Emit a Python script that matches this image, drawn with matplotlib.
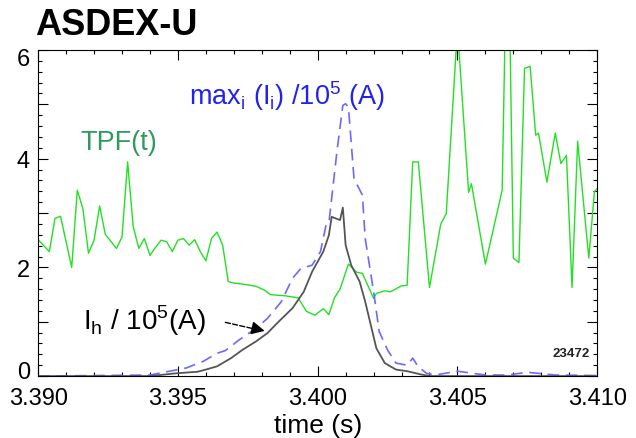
import matplotlib
matplotlib.use("Agg")
from matplotlib import pyplot as plt
from matplotlib.ticker import MultipleLocator, FuncFormatter
from matplotlib.transforms import ScaledTranslation

plt.rcParams['font.family'] = ['Liberation Sans', 'DejaVu Sans']
plt.rcParams['mathtext.fontset'] = 'custom'
plt.rcParams['mathtext.rm'] = 'Liberation Sans'

# TPF(t)
tpf_t = [3.3900, 3.3904, 3.3906, 3.3908, 3.3912, 3.3914, 3.3916, 3.3918, 3.3920, 3.3922,
         3.3924, 3.3928, 3.3930, 3.3932, 3.3934, 3.3936, 3.3938, 3.3940, 3.3942, 3.3944,
         3.3946, 3.3948, 3.3950, 3.3952, 3.3954, 3.3956, 3.3958, 3.3960, 3.3962, 3.3964,
         3.3966, 3.3968, 3.3970, 3.3972, 3.3976, 3.3978, 3.3981, 3.3983, 3.3985, 3.3988,
         3.3993, 3.3996, 3.3999, 3.4002, 3.4004, 3.4006, 3.4008, 3.4011, 3.4014, 3.4016,
         3.4020, 3.4021, 3.4024, 3.4026, 3.4030, 3.4032, 3.4034, 3.4036, 3.4040, 3.4044,
         3.4046, 3.4050, 3.4054, 3.4055, 3.4060, 3.4066, 3.4068, 3.4070, 3.4072, 3.4074,
         3.4076, 3.4078, 3.4079, 3.4082, 3.4085, 3.4087, 3.4089, 3.4091, 3.4093, 3.4097,
         3.4099, 3.4100]
tpf_v = [2.51, 2.29, 2.90, 2.94, 2.00, 3.42, 3.08, 2.26, 2.50, 3.13,
         2.61, 2.35, 2.56, 3.94, 2.75, 2.35, 2.53, 2.22, 2.37, 2.50,
         2.47, 2.29, 2.50, 2.53, 2.41, 2.51, 2.29, 2.12, 2.53, 2.65,
         2.41, 1.74, 1.71, 1.70, 1.67, 1.65, 1.58, 1.50, 1.49, 1.48,
         1.44, 1.19, 1.12, 1.24, 1.13, 1.44, 1.60, 2.06, 1.91, 1.89,
         1.43, 1.52, 1.57, 1.55, 1.66, 1.67, 3.94, 3.94, 1.63, 2.79,
         2.99, 6.40, 3.38, 3.54, 2.06, 3.42, 9.00, 2.17, 2.09, 5.66,
         5.70, 4.43, 4.47, 3.57, 4.47, 3.91, 4.06, 1.63, 4.32, 2.17,
         3.39, 3.45]

# max_i(I_i) / 1e5 A
imax_t = [3.3900, 3.3940, 3.3947, 3.3953, 3.3959, 3.3964, 3.3967, 3.3972, 3.3978, 3.3982,
          3.3987, 3.3991, 3.3994, 3.3998, 3.4001, 3.4003, 3.4004, 3.4005, 3.4007, 3.4009,
          3.4010, 3.4011, 3.4013, 3.4016, 3.4017, 3.4020, 3.4022, 3.4025, 3.4028, 3.4032,
          3.4034, 3.4036, 3.4039, 3.4042, 3.4050, 3.4060, 3.4068, 3.4075, 3.4085, 3.4100]
imax_v = [0.00, 0.02, 0.09, 0.15, 0.27, 0.42, 0.47, 0.67, 0.88, 1.06,
          1.37, 1.80, 1.98, 2.04, 2.29, 2.78, 2.81, 3.27, 4.18, 4.98,
          5.01, 4.95, 3.63, 3.33, 2.53, 1.56, 0.82, 0.48, 0.24, 0.20,
          0.33, 0.17, 0.05, 0.02, 0.09, 0.02, 0.02, 0.07, 0.02, 0.01]

# I_h / 1e5 A
ih_t = [3.3900, 3.3940, 3.3949, 3.3957, 3.3960, 3.3964, 3.3969, 3.3973, 3.3978, 3.3982,
        3.3986, 3.3991, 3.3995, 3.3998, 3.4002, 3.4004, 3.4005, 3.4008, 3.4009, 3.4010,
        3.4012, 3.4015, 3.4017, 3.4019, 3.4021, 3.4024, 3.4028, 3.4032, 3.4037, 3.4040,
        3.4100]
ih_v = [0.00, 0.00, 0.05, 0.08, 0.12, 0.18, 0.33, 0.48, 0.64, 0.79,
        1.00, 1.25, 1.55, 1.92, 2.29, 2.59, 2.93, 2.87, 3.10, 2.41,
        2.04, 1.74, 1.37, 0.94, 0.51, 0.24, 0.12, 0.09, 0.03, 0.00,
        0.00]

y_ticks = [0, 1, 2, 3, 4, 5, 6]
y_labels = ["0", "", "2", "", "4", "", "6"]

fig = plt.figure(figsize=(6.36, 4.39), dpi=100)
ax = fig.add_axes([0.060, 0.141, 0.879, 0.743])

ax.plot(tpf_t, tpf_v, color="#22e022", lw=1.0)
ax.plot(imax_t, imax_v, color="#6a6aff", lw=1.2, dashes=(7, 4))
ax.plot(ih_t, ih_v, color="#555555", lw=1.3)

ax.set_xlim(3.390, 3.410)
ax.set_ylim(0, 6)
ax.xaxis.set_major_locator(MultipleLocator(0.005))
ax.xaxis.set_minor_locator(MultipleLocator(0.001))
ax.set_yticks(y_ticks, y_labels)
ax.yaxis.set_minor_locator(MultipleLocator(0.2))
ax.xaxis.set_major_formatter(FuncFormatter(lambda v, p: f"{v:.3f}"))
ax.tick_params(which='both', direction='in', top=True, right=True, labelsize=17, width=0.8)
ax.tick_params(which='major', length=7)
ax.tick_params(which='minor', length=3)
ax.tick_params(axis='x', pad=8)
ax.tick_params(axis='y', pad=6)
for s in ax.spines.values():
    s.set_linewidth(0.8)

# end labels sit a little inside the axis range
for lab in ax.get_yticklabels():
    if lab.get_text() == "0":
        lab.set_transform(lab.get_transform() + ScaledTranslation(0, 5 / 72, fig.dpi_scale_trans))
    elif lab.get_text() == "6":
        lab.set_transform(lab.get_transform() + ScaledTranslation(0, -5 / 72, fig.dpi_scale_trans))

ax.set_xlabel("time (s)", fontsize=19, labelpad=3)

ax.text(3.3915, 4.30, "TPF(t)", color="#2e9a5e", fontsize=19.5, va='center')
ax.text(3.3954, 5.0, r"max$_\mathregular{i}$ (I$_\mathregular{i}$) /10$^\mathregular{5}$ (A)",
        color="#2222ee", fontsize=19.5, va='baseline')
ax.text(3.3916, 0.86, r"I$_\mathregular{h}$ / 10$^\mathregular{5}$(A)",
        color="black", fontsize=20, va='baseline')
ax.annotate("", xy=(3.3978, 0.86), xytext=(3.3966, 1.0),
            arrowprops=dict(arrowstyle='-', linestyle='--', color='black', lw=1.0))
ax.annotate("", xy=(3.3982, 0.82), xytext=(3.3977, 0.88),
            arrowprops=dict(arrowstyle='-|>', color='black', lw=1.0, mutation_scale=20))
ax.text(3.4084, 0.42, "23472", fontsize=9.5, fontweight='bold', color="#222222", va='center')

fig.text(0.055, 0.943, "ASDEX-U", fontsize=26, fontweight='bold', va='center')

plt.savefig("out.png")
